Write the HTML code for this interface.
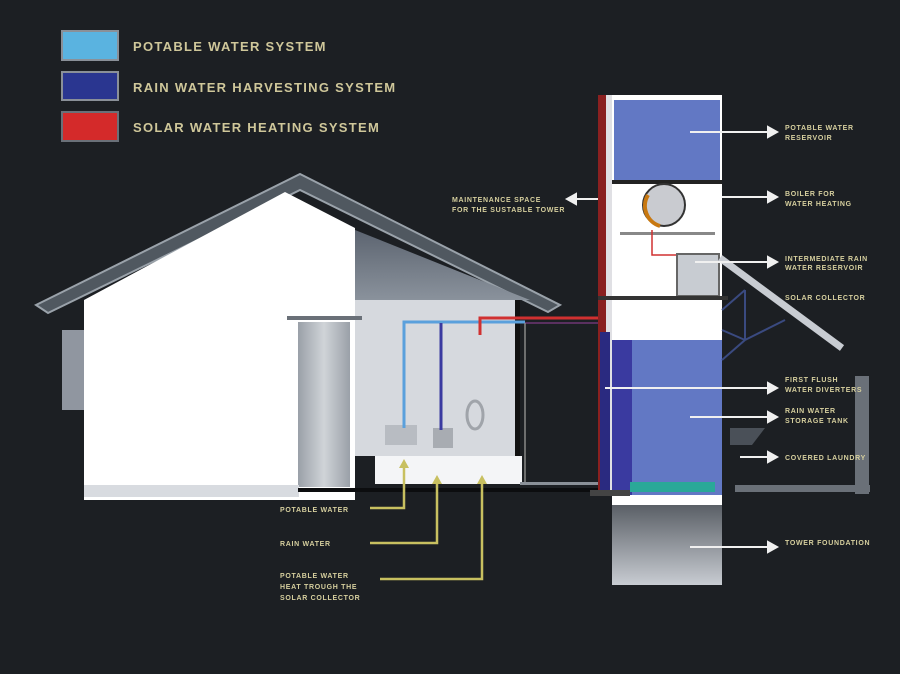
<!DOCTYPE html>
<html><head><meta charset="utf-8"><style>
html,body{margin:0;padding:0;background:#1c1f23;}
svg{display:block}
text{font-family:"Liberation Sans",sans-serif;font-weight:bold;fill:#cfc79a}
.s{font-size:7px;fill:#d6cf9e;letter-spacing:0.7px}
.l{font-size:13px;letter-spacing:1.3px}
</style></head><body>
<svg width="900" height="674" viewBox="0 0 900 674" xmlns="http://www.w3.org/2000/svg">
<defs>
<linearGradient id="fd" x1="0" y1="0" x2="0" y2="1"><stop offset="0" stop-color="#5a5f66"/><stop offset="1" stop-color="#c8ccd2"/></linearGradient>
<linearGradient id="attic" x1="0" y1="0" x2="0" y2="1"><stop offset="0" stop-color="#5c6470"/><stop offset="1" stop-color="#8a929c"/></linearGradient>
<linearGradient id="door" x1="0" y1="0" x2="1" y2="0"><stop offset="0" stop-color="#9aa0a8"/><stop offset=".5" stop-color="#d0d4d8"/><stop offset="1" stop-color="#9aa0a8"/></linearGradient>
</defs>
<rect width="900" height="674" fill="#1c1f23"/>
<!-- legend -->
<rect x="62" y="31" width="56" height="29" fill="#5ab3e0" stroke="#8a9098" stroke-width="2"/>
<rect x="62" y="72" width="56" height="28" fill="#2a3690" stroke="#8a9098" stroke-width="2"/>
<rect x="62" y="112" width="56" height="29" fill="#d42a2a" stroke="#6a7078" stroke-width="2"/>
<text class="l" x="133" y="51">POTABLE WATER SYSTEM</text>
<text class="l" x="133" y="92">RAIN WATER HARVESTING SYSTEM</text>
<text class="l" x="133" y="132">SOLAR WATER HEATING SYSTEM</text>

<!-- roof -->
<polygon points="36,305 300,174 560,305 548,312 300,190 48,313" fill="#505860" stroke="#9aa2aa" stroke-width="2"/>
<!-- left window -->
<rect x="62" y="330" width="22" height="80" fill="#9096a0"/>
<!-- white wall -->
<polygon points="84,300 285,192 355,228 355,500 84,500" fill="#ffffff"/>
<!-- attic -->
<polygon points="355,230 530,300 355,300" fill="url(#attic)"/>
<!-- bathroom -->
<rect x="355" y="300" width="160" height="156" fill="#d6d9de"/>
<rect x="515" y="300" width="5" height="160" fill="#111"/>
<rect x="375" y="456" width="147" height="28" fill="#f4f5f7"/>
<!-- door -->
<rect x="287" y="316" width="75" height="4" fill="#6a7078"/>
<rect x="298" y="322" width="52" height="165" fill="url(#door)"/>
<!-- floor -->
<rect x="84" y="485" width="215" height="12" fill="#d8dbe0"/>
<rect x="298" y="488" width="310" height="4" fill="#0c0d0f"/>
<rect x="520" y="482" width="92" height="3" fill="#8a9098"/>
<!-- bathroom fixtures -->
<rect x="385" y="425" width="32" height="20" fill="#b8bcc2"/>
<rect x="433" y="428" width="20" height="20" fill="#a8acb2"/>
<ellipse cx="475" cy="415" rx="8" ry="14" fill="none" stroke="#a0a4aa" stroke-width="3"/>
<!-- pipes -->
<polyline points="404,428 404,322 525,322" fill="none" stroke="#5aa0dc" stroke-width="3"/>
<line x1="441" y1="323" x2="441" y2="430" stroke="#3a3aa0" stroke-width="3"/>
<polyline points="480,335 480,318 605,318" fill="none" stroke="#d03030" stroke-width="3"/>
<polyline points="525,323 600,323" stroke="#5a3060" stroke-width="2"/>
<line x1="525" y1="323" x2="525" y2="482" stroke="#888" stroke-width="1.5"/>

<!-- tower -->
<rect x="598" y="95" width="8" height="400" fill="#8a2020"/>
<rect x="606" y="95" width="6" height="400" fill="#e0e0e4"/>
<rect x="612" y="95" width="110" height="410" fill="#ffffff"/>
<rect x="614" y="100" width="106" height="80" fill="#6278c4"/>
<rect x="612" y="180" width="110" height="4" fill="#222"/>
<circle cx="664" cy="205" r="21" fill="#c9cbd0" stroke="#333" stroke-width="2"/>
<path d="M648 195 A21 21 0 0 0 660 226" fill="none" stroke="#c87810" stroke-width="4"/>
<rect x="620" y="232" width="95" height="3" fill="#888"/>
<polyline points="652,230 652,255 683,255" fill="none" stroke="#d03030" stroke-width="1.5"/>
<rect x="677" y="254" width="42" height="42" fill="#c8ccd2" stroke="#666" stroke-width="2"/>
<rect x="598" y="296" width="130" height="4" fill="#333"/>
<rect x="612" y="340" width="110" height="155" fill="#6278c4"/>
<rect x="612" y="340" width="20" height="155" fill="#3a3aa0"/>
<rect x="630" y="482" width="85" height="10" fill="#2aa898"/>
<rect x="600" y="332" width="10" height="162" fill="#2a2a80"/>
<rect x="612" y="505" width="110" height="80" fill="url(#fd)"/>
<rect x="590" y="490" width="40" height="6" fill="#444"/>
<!-- solar collector -->
<line x1="720" y1="258" x2="842" y2="348" stroke="#c8ccd2" stroke-width="7"/>
<g stroke="#3a4a80" stroke-width="2" fill="none">
<line x1="722" y1="310" x2="745" y2="290"/><line x1="745" y1="290" x2="745" y2="340"/>
<line x1="722" y1="360" x2="745" y2="340"/><line x1="745" y1="340" x2="785" y2="320"/>
<line x1="722" y1="330" x2="745" y2="340"/>
</g>
<!-- laundry -->
<rect x="855" y="376" width="14" height="118" fill="#6a7078"/>
<rect x="735" y="485" width="135" height="7" fill="#6a7078"/>
<polygon points="730,428 765,428 752,445 730,445" fill="#4a5058"/>

<!-- right labels -->
<g stroke="#f0f0f0" stroke-width="2" fill="#f0f0f0">
<line x1="690" y1="132" x2="770" y2="132"/><polygon points="768,127 777,132 768,137"/>
<line x1="722" y1="197" x2="770" y2="197"/><polygon points="768,192 777,197 768,202"/>
<line x1="695" y1="262" x2="770" y2="262"/><polygon points="768,257 777,262 768,267"/>
<line x1="605" y1="388" x2="770" y2="388"/><polygon points="768,383 777,388 768,393"/>
<line x1="690" y1="417" x2="770" y2="417"/><polygon points="768,412 777,417 768,422"/>
<line x1="740" y1="457" x2="770" y2="457"/><polygon points="768,452 777,457 768,462"/>
<line x1="690" y1="547" x2="770" y2="547"/><polygon points="768,542 777,547 768,552"/>
<line x1="575" y1="199" x2="598" y2="199"/><polygon points="576,194 567,199 576,204"/>
</g>
<text class="s" x="785" y="130">POTABLE WATER</text><text class="s" x="785" y="140">RESERVOIR</text>
<text class="s" x="785" y="196">BOILER FOR</text><text class="s" x="785" y="206">WATER HEATING</text>
<text class="s" x="785" y="261">INTERMEDIATE RAIN</text><text class="s" x="785" y="270">WATER RESERVOIR</text>
<text class="s" x="785" y="300">SOLAR COLLECTOR</text>
<text class="s" x="785" y="382">FIRST FLUSH</text><text class="s" x="785" y="392">WATER DIVERTERS</text>
<text class="s" x="785" y="413">RAIN WATER</text><text class="s" x="785" y="423">STORAGE TANK</text>
<text class="s" x="785" y="460">COVERED LAUNDRY</text>
<text class="s" x="785" y="545">TOWER FOUNDATION</text>
<text class="s" x="452" y="202">MAINTENANCE SPACE</text><text class="s" x="452" y="212">FOR THE SUSTABLE TOWER</text>

<!-- yellow arrows -->
<g stroke="#c8c060" stroke-width="2.5" fill="none">
<polyline points="370,508 404,508 404,466"/>
<polyline points="370,543 437,543 437,482"/>
<polyline points="380,579 482,579 482,482"/>
</g>
<g fill="#c8c060">
<polygon points="399,468 404,459 409,468"/>
<polygon points="432,484 437,475 442,484"/>
<polygon points="477,484 482,475 487,484"/>
</g>
<text class="s" x="280" y="512">POTABLE WATER</text>
<text class="s" x="280" y="546">RAIN WATER</text>
<text class="s" x="280" y="578">POTABLE WATER</text>
<text class="s" x="280" y="589">HEAT TROUGH THE</text>
<text class="s" x="280" y="600">SOLAR COLLECTOR</text>
</svg>
</body></html>
